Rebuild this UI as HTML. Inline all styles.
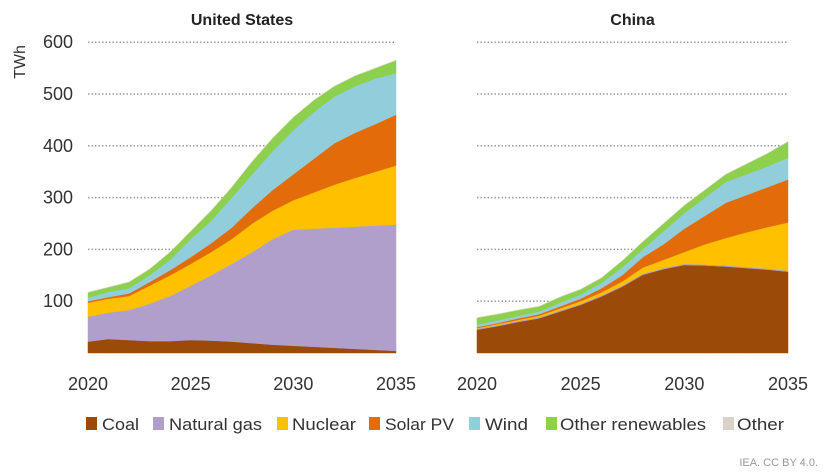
<!DOCTYPE html>
<html><head><meta charset="utf-8"><style>
body{margin:0;background:#fff;}
svg{display:block;font-family:"Liberation Sans",sans-serif;}
</style></head><body>
<svg id="chart" width="831" height="475" viewBox="0 0 831 475"></svg>
<script>
const years=[2020,2021,2022,2023,2024,2025,2026,2027,2028,2029,2030,2031,2032,2033,2034,2035];
const seriesNames=["Coal","Natural gas","Nuclear","Solar PV","Wind","Other renewables","Other"];
const seriesColors=["#9b4a08","#b09ecb","#ffc000","#e36c0a","#92cddc","#8dd04e","#d9d3c7"];
const usCoal=[22,27,25,23,23,25,24,22,19,16,14,12,10,8,6,4];
const usGas=[48,51,58,72,87,105,126,150,176,204,224,228,232,236,240,244];
const usNuclear=[27,27,27,35,40,42,45,48,55,55,57,70,83,94,104,114];
const usSolar=[3,3,5,7,10,13,17,22,30,40,50,65,80,87,92,98];
const usWind=[7,10,10,13,20,35,43,58,65,75,85,90,90,90,88,80];
const usOtherRen=[10,9,12,12,15,15,20,20,25,25,25,23,20,20,20,25];
const usOther=[0,0,0,0,0,0,0,0,0,0,0,0,0,0,0,0];
const cnCoal=[45,52,60,67,80,93,109,128,151,162,170,169,167,164,161,157];
const cnGas=[2,2,2,2,2,2,2,2,2,2,2,2,2,2,2,2];
const cnNuclear=[1,2,2,3,4,5,6,8,12,16,23,39,53,67,80,93];
const cnSolar=[2,2,3,3,4,5,8,12,20,30,45,55,68,72,77,83];
const cnWind=[5,5,5,5,7,8,10,15,15,25,30,35,40,40,40,42];
const cnOtherRen=[13,12,11,10,11,10,10,13,15,15,15,15,15,20,25,31];
const cnOther=[0,0,0,0,0,0,0,0,0,0,0,0,0,0,0,0];
const yTicks=[100,200,300,400,500,600];
const xTicks=[2020,2025,2030,2035];

const NS="http://www.w3.org/2000/svg";
const svg=document.getElementById('chart');
function mk(tag,attrs,parent){const e=document.createElementNS(NS,tag);for(const k in attrs)e.setAttribute(k,attrs[k]);(parent||svg).appendChild(e);return e;}

const y0=353, yScale=0.518;
function yPos(v){return y0-v*yScale;}

function panel(name,title,x0,x1,data,showAxis){
  const g=mk('g',{});
  
  
  const xPos=yr=>x0+(yr-2020)/15*(x1-x0);
  const t=mk('text',{x:(x0+x1)/2,y:25,'text-anchor':'middle','font-size':16,'font-weight':'bold',fill:'#222'},g);
  t.textContent=title;
  
  
  yTicks.forEach(v=>{
    const l=mk('line',{x1:x0,x2:x1,y1:yPos(v),y2:yPos(v),stroke:'#999','stroke-width':1.5,'stroke-dasharray':'1.5 2'},g);
    
    
    if(showAxis){
      const tx=mk('text',{x:73,y:yPos(v)+6,'text-anchor':'end','font-size':18,fill:'#333'},g);
      tx.textContent=v;
      
      
    }
  });
  let base=years.map(()=>0);
  data.forEach((s,i)=>{
    const top=base.map((b,j)=>b+s[j]);
    let d='M'+years.map((yr,j)=>xPos(yr)+','+yPos(top[j])).join(' L');
    for(let j=years.length-1;j>=0;j--)d+=' L'+xPos(years[j])+','+yPos(base[j]);
    d+='Z';
    const p=mk('path',{d:d,fill:seriesColors[i],stroke:seriesColors[i],'stroke-width':0.5,'stroke-linejoin':'round'},g);
    
    
    base=top;
  });
  xTicks.forEach(yr=>{
    const tx=mk('text',{x:xPos(yr),y:390,'text-anchor':'middle','font-size':18,fill:'#333'},g);
    tx.textContent=yr;
    
    
  });
}
panel('us','United States',88,396,[usCoal,usGas,usNuclear,usSolar,usWind,usOtherRen,usOther],true);
panel('china','China',477,788,[cnCoal,cnGas,cnNuclear,cnSolar,cnWind,cnOtherRen,cnOther],false);

const yt=mk('text',{x:0,y:0,transform:'translate(25,62) rotate(-90)','text-anchor':'middle','font-size':16,fill:'#333'});
yt.textContent='TWh';



const legSq=[86,153,277,369,469,546,723];
const legTx=[102,169,292,385,485,560,737];
const legW=[37,93,64,69,43,146,47];
seriesNames.forEach((n,i)=>{
  const g=mk('g',{});
  
  
  mk('rect',{x:legSq[i],y:417,width:11,height:13,fill:seriesColors[i]},g);
  const t=mk('text',{x:legTx[i],y:430,'font-size':17,fill:'#333',textLength:legW[i],lengthAdjust:'spacingAndGlyphs'},g);
  t.textContent=n;
});
const cr=mk('text',{x:818,y:466,'text-anchor':'end','font-size':11,fill:'#999'});
cr.textContent='IEA. CC BY 4.0.';


</script>
</body></html>
